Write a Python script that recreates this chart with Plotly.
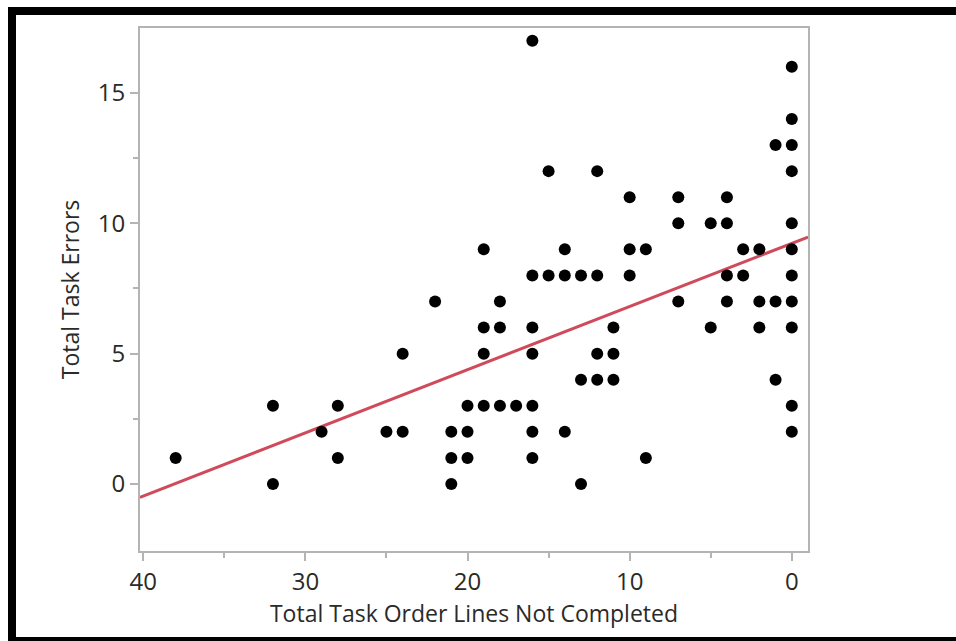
import numpy as np
import plotly.graph_objects as go

# Data (x = Total Task Order Lines Not Completed, y = Total Task Errors)
lines_not_completed = [38, 32, 32, 29, 28, 28, 25, 24, 24, 22,
                       21, 21, 21, 20, 20, 20, 19, 19, 19, 19,
                       18, 18, 18, 17, 16, 16, 16, 16, 16, 16, 16,
                       15, 15, 14, 14, 14, 13, 13, 13, 12, 12, 12, 12,
                       11, 11, 11, 10, 10, 10, 9, 9, 7, 7, 7, 5, 5,
                       4, 4, 4, 4, 3, 3, 2, 2, 2, 1, 1, 1,
                       0, 0, 0, 0, 0, 0, 0, 0, 0, 0, 0]
task_errors = [1, 3, 0, 2, 3, 1, 2, 5, 2, 7,
               2, 1, 0, 3, 2, 1, 9, 6, 5, 3,
               7, 6, 3, 3, 17, 8, 6, 5, 3, 2, 1,
               12, 8, 9, 8, 2, 8, 4, 0, 12, 8, 5, 4,
               6, 5, 4, 11, 9, 8, 9, 1, 11, 10, 7, 10, 6,
               11, 10, 8, 7, 9, 8, 9, 7, 6, 13, 7, 4,
               16, 14, 13, 12, 10, 9, 8, 7, 6, 3, 2]

x_ticks = [40, 30, 20, 10, 0]
y_ticks = [0, 5, 10, 15]
x_title = "Total Task Order Lines Not Completed"
y_title = "Total Task Errors"

x_range = [40.2, -1.0]
y_range = [-2.57, 17.49]

W, H = 956, 641
L, R, T, B = 140, 808, 28, 551  # plot area in pixels

x = np.array(lines_not_completed, dtype=float)
y = np.array(task_errors, dtype=float)
slope, intercept = np.polyfit(x, y, 1)
fit_x = np.array([x_range[0], x_range[1]])
fit_y = slope * fit_x + intercept

fig = go.Figure()
fig.add_trace(go.Scatter(x=fit_x, y=fit_y, mode="lines",
                         line=dict(color="#cf4a5b", width=3), hoverinfo="skip",
                         showlegend=False))
fig.add_trace(go.Scatter(x=x, y=y, mode="markers",
                         marker=dict(color="black", size=12), showlegend=False))


def px_x(p):
    return (p - L) / (R - L)


def px_y(p):
    return (B - p) / (B - T)


shapes = []
for (x0, y0, x1, y1) in [(8, 7, W + 20, 15), (8, 7, 16, H + 20), (8, 637, W + 20, H + 20)]:
    shapes.append(dict(type="rect", xref="paper", yref="paper",
                       x0=px_x(x0), x1=px_x(x1), y0=px_y(y1), y1=px_y(y0),
                       fillcolor="black", line=dict(width=0), layer="above"))

font_family = "Open Sans"
axis_common = dict(showgrid=False, zeroline=False, showline=True, mirror=True,
                   linecolor="#b4b4b4", linewidth=2, ticks="outside",
                   tickcolor="#b4b4b4", tickwidth=2, ticklen=8,
                   tickfont=dict(family=font_family, size=24, color="#2a2a2a"))

fig.update_layout(
    width=W, height=H,
    margin=dict(l=L, r=W - R, t=T, b=H - B),
    paper_bgcolor="white", plot_bgcolor="white",
    shapes=shapes,
    xaxis=dict(range=x_range, tickvals=x_ticks,
               minor=dict(tickvals=[35, 25, 15, 5], ticks="outside", ticklen=5,
                          tickcolor="#b4b4b4", tickwidth=2),
               title=dict(text=x_title, standoff=6,
                          font=dict(family=font_family, size=23, color="#2a2a2a")),
               **axis_common),
    yaxis=dict(range=y_range, tickvals=y_ticks,
               minor=dict(tickvals=[2.5, 7.5, 12.5], ticks="outside", ticklen=5,
                          tickcolor="#b4b4b4", tickwidth=2),
               title=dict(text=y_title, standoff=12,
                          font=dict(family=font_family, size=23, color="#2a2a2a")),
               **axis_common),
)

fig.write_html("out.html", config={"displayModeBar": False},
               post_script="document.body.style.margin='0px';document.body.style.overflow='hidden';")
